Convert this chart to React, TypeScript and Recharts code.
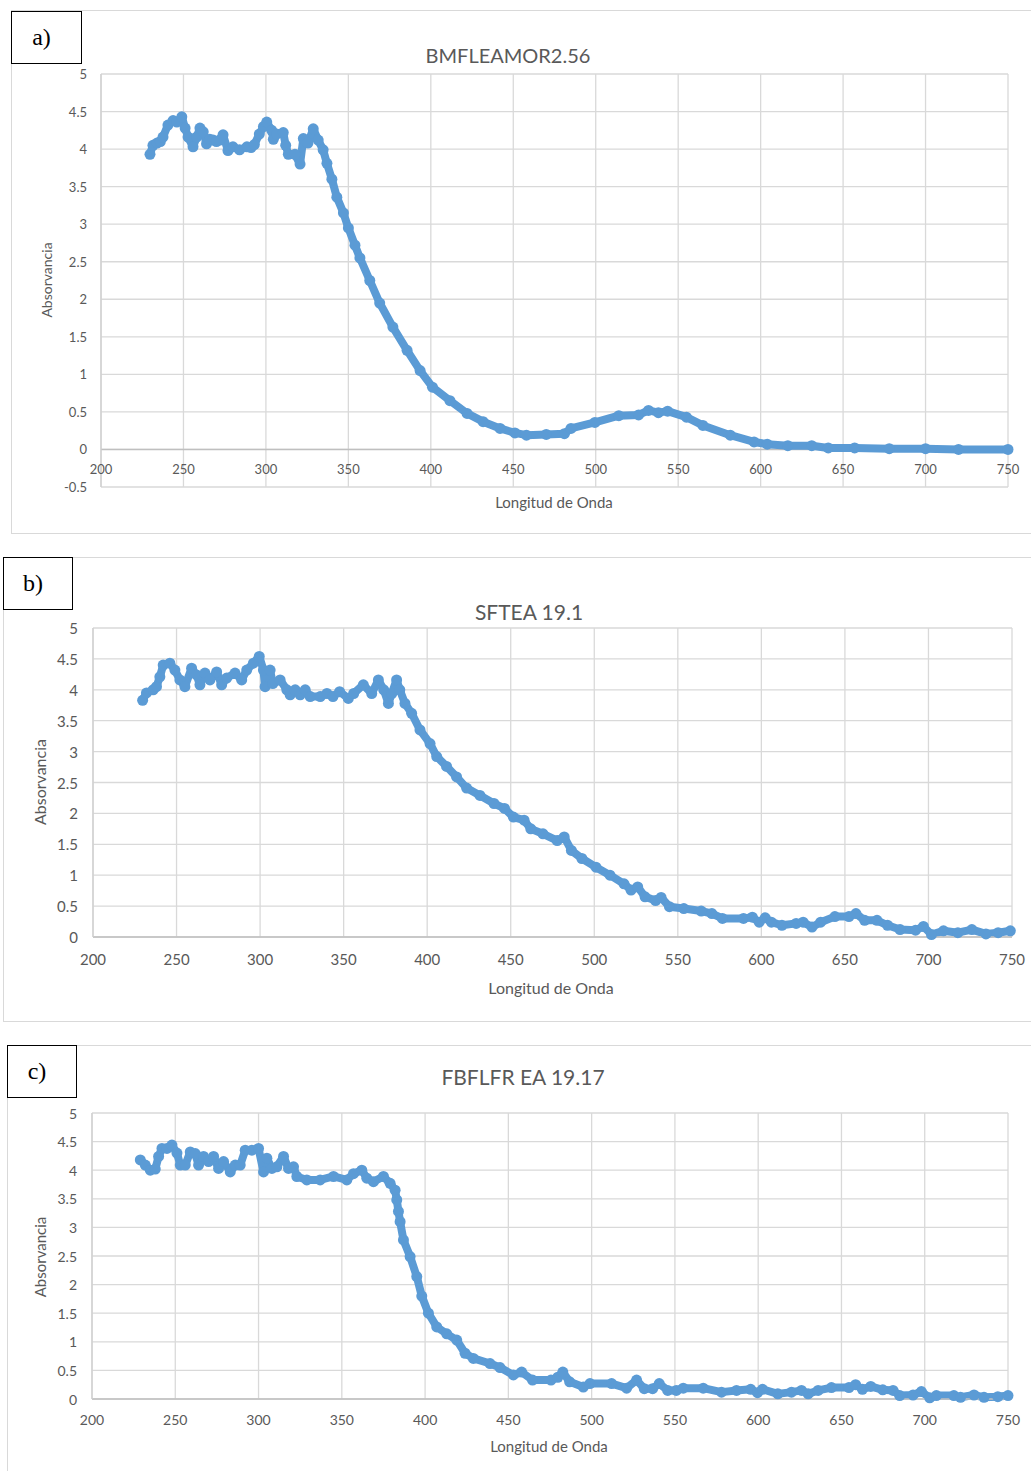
import React from "react";
import { LineChart, Line, XAxis, YAxis, CartesianGrid, ReferenceLine } from "recharts";

// a) BMFLEAMOR2.56
const wlA = [
  229.7, 231.5, 234, 236, 237.6, 240.6, 243.7, 246, 249, 251, 252.8, 255.8, 258, 260, 262, 264, 266, 268, 270, 272,
  274, 277, 280, 284, 288.5, 291, 293, 296, 298.5, 300.5, 303.5, 304.5, 306.5, 310.5, 312, 313.6, 317.6, 320.7, 322.7,
  325.5, 328.7, 331.7, 334.7, 337, 340, 343, 347, 350, 354, 357, 363, 369, 377, 385.6, 393.5, 401, 411.6, 422, 431.7,
  442, 451, 458, 470, 481, 485, 499.5, 514, 526, 532, 538, 543.6, 555, 565, 581.6, 596, 604, 616.5, 631, 641, 657,
  678, 700, 720, 750,
];
const absA = [
  3.93, 4.05, 4.08, 4.1, 4.16, 4.32, 4.38, 4.36, 4.43, 4.28, 4.16, 4.03, 4.16, 4.28, 4.23, 4.07, 4.13, 4.12, 4.1, 4.12,
  4.19, 3.98, 4.03, 3.99, 4.03, 4.02, 4.06, 4.2, 4.3, 4.36, 4.25, 4.13, 4.2, 4.22, 4.05, 3.93, 3.93, 3.8, 4.14,
  4.08, 4.27, 4.12, 3.99, 3.81, 3.6, 3.36, 3.15, 2.95, 2.72, 2.55, 2.25, 1.95, 1.63, 1.32, 1.05, 0.83, 0.65, 0.48, 0.37,
  0.28, 0.22, 0.19, 0.2, 0.21, 0.28, 0.36, 0.45, 0.46, 0.52, 0.49, 0.51, 0.43, 0.32, 0.19, 0.1, 0.07, 0.05, 0.05, 0.02, 0.02,
  0.01, 0.01, 0, 0,
];

// b) SFTEA 19.1
const wlB = [
  229.7, 232, 236, 238, 240, 242, 246, 249, 252, 255, 259, 262, 264, 267, 270, 274, 277, 280, 285, 289,
  292, 296, 299.5, 302, 303, 306, 307.6, 312, 316, 318, 321, 324, 327, 330, 336, 340, 343.6, 347.6, 352.8, 356,
  361.8, 366.8, 370.8, 374, 376.8, 378.8, 381.7, 383.6, 386.7, 390.7, 395.7, 401.7, 405.7, 411.6, 417.6, 423.6, 431.6, 440,
  446.3, 451.6, 458, 462, 469.3, 477.8, 482, 486.3, 492.6, 501, 509.4, 517.8, 522, 526, 530.4, 536.7, 540, 545, 553.6,
  564, 570.4, 576.7, 589.3, 594.6, 598.7, 602.3, 606, 612.3, 620.8, 625, 630.3, 635.5, 644, 652.4, 656.6, 661.8, 669.2,
  675.5, 683, 692.3, 697, 701.8, 709, 717.6, 726, 734.4, 741.7, 749,
];
const absB = [
  3.83, 3.95, 4.0, 4.05, 4.21, 4.4, 4.43, 4.32, 4.16, 4.05, 4.35, 4.24, 4.08, 4.27, 4.16, 4.29, 4.08, 4.19, 4.27, 4.16,
  4.32, 4.43, 4.54, 4.32, 4.05, 4.32, 4.1, 4.16, 4.0, 3.92, 4.0, 3.92, 4.0, 3.89, 3.89, 3.94, 3.89, 3.97, 3.86, 3.94,
  4.08, 3.94, 4.16, 4.0, 3.78, 3.94, 4.16, 4.0, 3.78, 3.62, 3.35, 3.13, 2.92, 2.76, 2.59, 2.41, 2.29, 2.16,
  2.08, 1.94, 1.89, 1.75, 1.67, 1.56, 1.62, 1.4, 1.27, 1.13, 1.0, 0.86, 0.76, 0.81, 0.65, 0.59, 0.64, 0.49, 0.46,
  0.42, 0.38, 0.3, 0.3, 0.32, 0.24, 0.31, 0.24, 0.19, 0.22, 0.24, 0.16, 0.24, 0.33, 0.33, 0.38, 0.27, 0.27,
  0.19, 0.12, 0.11, 0.17, 0.04, 0.1, 0.07, 0.12, 0.05, 0.07, 0.1,
];

// c) FBFLFR EA 19.17
const wlC = [
  229, 232, 235, 238, 240, 242, 245, 248, 251, 253, 256, 259, 262, 264, 267, 270, 273, 276, 279, 283,
  286, 289, 292, 296, 300, 303, 305, 308, 311, 315, 318, 321, 323, 329, 337, 345, 353, 357, 362, 365,
  369, 375, 379, 382, 383, 384, 385, 387, 391, 395, 398, 402, 407, 413, 419, 424, 429, 439, 445, 453,
  458, 464.5, 475.6, 479.7, 482.7, 486.8, 495, 499, 512, 521, 527, 531.6, 536.6, 540.6, 545.7, 550.8, 555, 567, 578, 587,
  595.5, 599.6, 602.6, 611.8, 620, 626, 630, 636, 644, 654.5, 658.5, 662.6, 667.6, 674.8, 681, 685, 693, 698, 703, 707,
  717.5, 721.5, 729.6, 735.6, 743.9, 750,
];
const absC = [
  4.18, 4.09, 4.0, 4.02, 4.24, 4.38, 4.38, 4.44, 4.3, 4.09, 4.09, 4.32, 4.29, 4.09, 4.24, 4.15, 4.24, 4.03, 4.15, 3.97,
  4.09, 4.09, 4.35, 4.35, 4.38, 3.97, 4.21, 4.03, 4.06, 4.24, 4.03, 4.06, 3.89, 3.83, 3.83, 3.89, 3.83, 3.94, 4.0, 3.86,
  3.8, 3.89, 3.77, 3.65, 3.48, 3.28, 3.1, 2.78, 2.49, 2.14, 1.8, 1.5, 1.26, 1.14, 1.03, 0.8, 0.71, 0.62, 0.55, 0.42,
  0.47, 0.33, 0.33, 0.38, 0.47, 0.3, 0.21, 0.27, 0.27, 0.19, 0.33, 0.18, 0.18, 0.27, 0.15, 0.15, 0.19, 0.19, 0.12, 0.15,
  0.17, 0.11, 0.17, 0.09, 0.12, 0.15, 0.09, 0.15, 0.2, 0.2, 0.25, 0.17, 0.22, 0.16, 0.15, 0.06, 0.07, 0.13, 0.02, 0.06,
  0.06, 0.03, 0.07, 0.03, 0.04, 0.06,
];

const xTicks = [200, 250, 300, 350, 400, 450, 500, 550, 600, 650, 700, 750];
const yTicksA = [-0.5, 0, 0.5, 1, 1.5, 2, 2.5, 3, 3.5, 4, 4.5, 5];
const yTicksBC = [0, 0.5, 1, 1.5, 2, 2.5, 3, 3.5, 4, 4.5, 5];

const BLUE = "#5B9BD5";
const GREY_TXT = "#595959";
const FONT = "Lato, 'Open Sans', sans-serif";

const panels = [
  {
    tag: "a)",
    title: "BMFLEAMOR2.56",
    wl: wlA,
    abs: absA,
    yTicks: yTicksA,
    frame: { left: 11, top: 10, width: 1040, height: 524 },
    tagBox: { left: 11, top: 11, width: 71, height: 53 },
    titlePos: { x: 508, y: 55, size: 20 },
    yLabel: { x: 46, y: 280, size: 14 },
    xLabel: { x: 554, y: 502, size: 15 },
    plot: { left: 101, right: 1008, top: 74, bottom: 487 },
    tickSize: 13,
    yTickRight: 87,
    xTickY: 469,
    zeroAxis: true,
  },
  {
    tag: "b)",
    title: "SFTEA 19.1",
    wl: wlB,
    abs: absB,
    yTicks: yTicksBC,
    frame: { left: 3, top: 557, width: 1040, height: 465 },
    tagBox: { left: 3, top: 557, width: 70, height: 53 },
    titlePos: { x: 529, y: 611, size: 21 },
    yLabel: { x: 39, y: 782, size: 16 },
    xLabel: { x: 551, y: 987, size: 16 },
    plot: { left: 93, right: 1012, top: 628, bottom: 937 },
    tickSize: 15,
    yTickRight: 78,
    xTickY: 959,
    zeroAxis: false,
  },
  {
    tag: "c)",
    title: "FBFLFR EA 19.17",
    wl: wlC,
    abs: absC,
    yTicks: yTicksBC,
    frame: { left: 7, top: 1045, width: 1040, height: 500 },
    tagBox: { left: 7, top: 1045, width: 70, height: 53 },
    titlePos: { x: 523, y: 1076, size: 21 },
    yLabel: { x: 40, y: 1257, size: 15 },
    xLabel: { x: 549, y: 1446, size: 15 },
    plot: { left: 92, right: 1008, top: 1113, bottom: 1399 },
    tickSize: 14,
    yTickRight: 77,
    xTickY: 1419,
    zeroAxis: false,
  },
];

function Panel({ p }: { p: (typeof panels)[number] }) {
  const data = p.wl.map((w, i) => ({ w, a: p.abs[i] }));
  const chartTop = p.plot.top - 20;
  const chartH = p.plot.bottom - chartTop + 50;
  const W = 1031;

  return (
    <>
      <div
        style={{
          position: "absolute",
          left: p.frame.left,
          top: p.frame.top,
          width: p.frame.width,
          height: p.frame.height,
          border: "1px solid #d9d9d9",
          boxSizing: "border-box",
        }}
      />
      <div style={{ position: "absolute", top: chartTop, left: 0 }}>
        <LineChart
          width={W}
          height={chartH}
          data={data}
          margin={{
            top: p.plot.top - chartTop,
            left: 0,
            right: W - p.plot.right,
            bottom: 0,
          }}
        >
          <CartesianGrid stroke="#d9d9d9" strokeWidth={1.3} />
          <XAxis
            dataKey="w"
            type="number"
            domain={[200, 750]}
            ticks={xTicks}
            height={chartTop + chartH - p.plot.bottom}
            axisLine={p.zeroAxis ? false : { stroke: "#bfbfbf", strokeWidth: 1.5 }}
            tickLine={false}
            interval={0}
            tick={(t: any) => (
              <text
                x={t.x}
                y={p.xTickY - chartTop}
                textAnchor="middle"
                dominantBaseline="central"
                fill={GREY_TXT}
                fontSize={p.tickSize}
                fontFamily={FONT}
              >
                {t.payload.value}
              </text>
            )}
          />
          <YAxis
            type="number"
            domain={[p.yTicks[0], 5]}
            ticks={p.yTicks}
            width={p.plot.left}
            axisLine={{ stroke: "#d0d0d0", strokeWidth: 1.3 }}
            tickLine={false}
            interval={0}
            tick={(t: any) => (
              <text
                x={p.yTickRight}
                y={t.y}
                textAnchor="end"
                dominantBaseline="central"
                fill={GREY_TXT}
                fontSize={p.tickSize}
                fontFamily={FONT}
              >
                {t.payload.value}
              </text>
            )}
          />
          {p.zeroAxis && <ReferenceLine y={0} stroke="#bfbfbf" strokeWidth={1.5} />}
          <Line
            dataKey="a"
            type="linear"
            stroke={BLUE}
            strokeWidth={8}
            strokeLinejoin="round"
            strokeLinecap="round"
            dot={{ r: 5.5, fill: BLUE, stroke: "none" }}
            isAnimationActive={false}
          />
        </LineChart>
      </div>
      <div
        style={{
          position: "absolute",
          left: p.tagBox.left,
          top: p.tagBox.top,
          width: p.tagBox.width,
          height: p.tagBox.height,
          border: "1px solid #000",
          boxSizing: "border-box",
          background: "#fff",
          display: "flex",
          alignItems: "center",
          justifyContent: "center",
          paddingRight: 10,
          fontFamily: "'Liberation Serif', serif",
          fontSize: 24,
          color: "#000",
        }}
      >
        {p.tag}
      </div>
      <div
        style={{
          position: "absolute",
          left: p.titlePos.x,
          top: p.titlePos.y,
          transform: "translate(-50%, -50%)",
          fontFamily: FONT,
          fontSize: p.titlePos.size,
          color: GREY_TXT,
          whiteSpace: "nowrap",
        }}
      >
        {p.title}
      </div>
      <div
        style={{
          position: "absolute",
          left: p.yLabel.x,
          top: p.yLabel.y,
          transform: "translate(-50%, -50%) rotate(-90deg)",
          fontFamily: FONT,
          fontSize: p.yLabel.size,
          color: GREY_TXT,
          whiteSpace: "nowrap",
        }}
      >
        Absorvancia
      </div>
      <div
        style={{
          position: "absolute",
          left: p.xLabel.x,
          top: p.xLabel.y,
          transform: "translate(-50%, -50%)",
          fontFamily: FONT,
          fontSize: p.xLabel.size,
          color: GREY_TXT,
          whiteSpace: "nowrap",
        }}
      >
        Longitud de Onda
      </div>
    </>
  );
}

export default function App() {
  return (
    <div
      style={{
        position: "absolute",
        left: 0,
        top: 0,
        width: 1031,
        height: 1471,
        overflow: "hidden",
        background: "#fff",
      }}
    >
      {panels.map((p) => (
        <Panel key={p.tag} p={p} />
      ))}
    </div>
  );
}
